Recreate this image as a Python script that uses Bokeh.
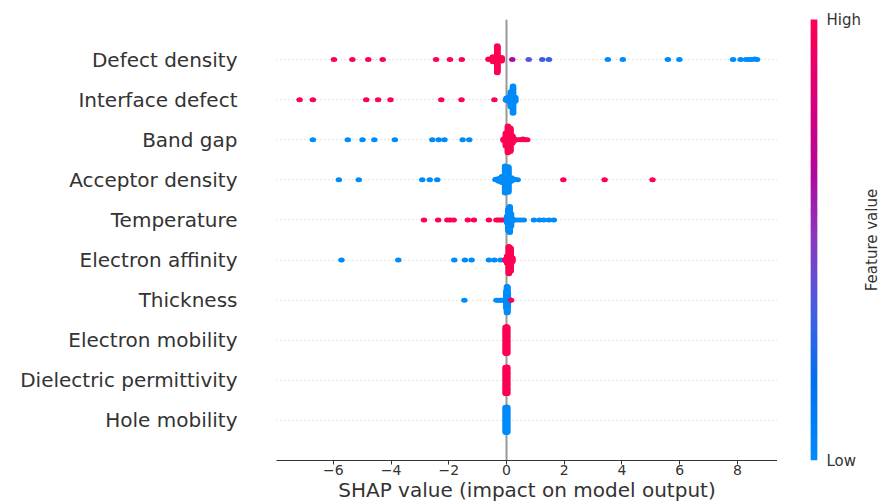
import numpy as np
from bokeh.plotting import figure
from bokeh.layouts import row
from bokeh.models import Range1d, FixedTicker, Span, ColumnDataSource, LinearAxis
from bokeh.core.properties import value
from bokeh.embed import file_html
from bokeh.resources import INLINE

# ---------------- data ----------------
feature_names = ["Defect density", "Interface defect", "Band gap", "Acceptor density",
                 "Temperature", "Electron affinity", "Thickness", "Electron mobility",
                 "Dielectric permittivity", "Hole mobility"]

# each entry: SHAP value, number of samples at that value, feature value (0 = low, 1 = high)
defect_density_shap = [-5.98, -5.34, -4.79, -4.29, -2.44, -1.96, -1.55, -0.62, -0.47, -0.32, -0.17,
                       0.2, 0.77, 1.24, 1.47, 3.51, 4.03, 5.59, 5.99, 7.85, 8.11, 8.3, 8.4, 8.5, 8.6, 8.68]
defect_density_count = [1, 1, 1, 1, 1, 1, 1, 2, 8, 40, 6,
                        1, 1, 1, 1, 1, 1, 1, 1, 1, 1, 1, 1, 1, 1, 1]
defect_density_feat = [1, 1, 1, 1, 1, 1, 1, 1, 1, 1, 1,
                       0.65, 0.4, 0.33, 0.3, 0, 0, 0, 0, 0, 0, 0, 0, 0, 0, 0]

interface_defect_shap = [-7.17, -6.71, -4.86, -4.45, -4.02, -2.26, -1.56, -0.42, -0.02, 0.0, 0.076, 0.15, 0.225, 0.30]
interface_defect_count = [1, 1, 1, 1, 1, 1, 1, 1, 1, 3, 6, 20, 35, 6]
interface_defect_feat = [1, 1, 1, 1, 1, 1, 1, 1, 1, 0, 0, 0, 0, 0]

band_gap_shap = [-6.71, -5.5, -4.99, -4.58, -3.87, -2.57, -2.35, -2.15, -1.52, -1.29,
                 -0.1, -0.02, 0.05, 0.13, 0.2, 0.28, 0.42, 0.5, 0.57, 0.65, 0.72]
band_gap_count = [1, 1, 1, 1, 1, 1, 1, 1, 1, 1, 3, 20, 40, 35, 12, 3, 1, 1, 2, 1, 1]
band_gap_feat = [0, 0, 0, 0, 0, 0, 0, 0, 0, 0, 1, 1, 1, 1, 1, 1, 1, 1, 1, 1, 1]

acceptor_density_shap = [-5.81, -5.12, -2.92, -2.66, -2.4, -0.375, -0.266, -0.157, -0.049, 0.06,
                         0.168, 0.277, 0.386, 1.97, 3.4, 5.06]
acceptor_density_count = [1, 1, 1, 1, 1, 2, 5, 10, 40, 38, 6, 2, 1, 1, 1, 1]
acceptor_density_feat = [0, 0, 0, 0, 0, 0, 0, 0, 0, 0, 0, 0, 0, 1, 1, 1]

temperature_shap = [-2.86, -2.37, -2.05, -1.95, -1.83, -1.34, -1.13, -0.61, -0.35, -0.28, -0.2, -0.13,
                    0.02, 0.065, 0.11, 0.155, 0.2, 0.3, 0.4, 0.5, 0.6, 0.95, 1.14, 1.29, 1.47, 1.64]
temperature_count = [1, 1, 1, 1, 1, 1, 1, 1, 1, 1, 1, 1,
                     8, 25, 30, 15, 3, 1, 1, 1, 1, 1, 1, 1, 1, 1]
temperature_feat = [1, 1, 1, 1, 1, 1, 1, 1, 1, 1, 1, 1,
                    0, 0, 0, 0, 0, 0, 0, 0, 0, 0, 0, 0, 0, 0]

electron_affinity_shap = [-5.72, -3.75, -1.81, -1.44, -1.21, -0.61, -0.42, -0.21, -0.036, 0.023, 0.082, 0.14, 0.2]
electron_affinity_count = [1, 1, 1, 1, 1, 1, 1, 1, 3, 10, 35, 30, 6]
electron_affinity_feat = [0, 0, 0, 0, 0, 0, 0, 0, 1, 1, 1, 1, 1]

thickness_shap = [-1.46, -0.35, -0.28, -0.21, -0.14, -0.09, -0.016, 0.0, 0.016, 0.032, 0.048, 0.064, 0.16]
thickness_count = [1, 1, 1, 1, 1, 1, 3, 20, 30, 30, 15, 5, 1]
thickness_feat = [0, 0, 0, 0, 0, 0, 0, 0, 0, 0, 0, 0, 1]

electron_mobility_shap = [-0.03, -0.015, 0.0, 0.015, 0.03, -0.03, -0.015, 0.0, 0.015, 0.03]
electron_mobility_count = [1, 1, 1, 1, 1, 20, 20, 20, 20, 20]
electron_mobility_feat = [0, 0, 0, 0, 0, 1, 1, 1, 1, 1]

dielectric_permittivity_shap = [-0.03, -0.015, 0.0, 0.015, 0.03, -0.03, -0.015, 0.0, 0.015, 0.03]
dielectric_permittivity_count = [1, 1, 1, 1, 1, 20, 20, 20, 20, 20]
dielectric_permittivity_feat = [0, 0, 0, 0, 0, 1, 1, 1, 1, 1]

hole_mobility_shap = [-0.03, -0.015, 0.0, 0.015, 0.03]
hole_mobility_count = [20, 20, 20, 20, 20]
hole_mobility_feat = [0, 0, 0, 0, 0]

x_ticks = [-6, -4, -2, 0, 2, 4, 6, 8]
x_tick_labels = ["\u22126", "\u22124", "\u22122", "0", "2", "4", "6", "8"]
x_title = "SHAP value (impact on model output)"
cbar_title = "Feature value"
cbar_ticks = [0, 1]
cbar_tick_labels = ["Low", "High"]

# ---------------- styling / layout ----------------
FONT = "DejaVu Sans"
TXT = "#333333"
X_MIN, X_MAX = -7.97, 9.39
W_MAIN, W_CBAR, W_TITLE, H = 777, 86, 20, 504
B_LEFT, B_TOP, B_BOTTOM = 276, 19, 44

anchor_pos = [0.0, 0.18, 0.35, 0.5, 0.65, 0.8, 1.0]
anchor_hex = ["#008bfa", "#0070f0", "#4a5ce0", "#8a38c0", "#b0089e", "#d40080", "#ff0052"]
anchor_rgb = np.array([[int(h[i:i + 2], 16) for i in (1, 3, 5)] for h in anchor_hex], float)
palette = []
for t in np.linspace(0, 1, 256):
    c = [int(round(np.interp(t, anchor_pos, anchor_rgb[:, k]))) for k in range(3)]
    palette.append("#%02x%02x%02x" % tuple(c))


def beeswarm(shaps, row_height=0.4, nbins=100):
    shaps = np.asarray(shaps, float)
    n = len(shaps)
    quant = np.round(nbins * (shaps - shaps.min()) / (shaps.max() - shaps.min() + 1e-8))
    inds = np.argsort(quant, kind="stable")
    layer, last = 0, None
    ys = np.zeros(n)
    for ind in inds:
        if quant[ind] != last:
            layer = 0
        ys[ind] = np.ceil(layer / 2) * ((layer % 2) * 2 - 1)
        layer += 1
        last = quant[ind]
    ys *= 0.9 * (row_height / np.max(ys + 1))
    return ys


rows = [
    (defect_density_shap, defect_density_count, defect_density_feat),
    (interface_defect_shap, interface_defect_count, interface_defect_feat),
    (band_gap_shap, band_gap_count, band_gap_feat),
    (acceptor_density_shap, acceptor_density_count, acceptor_density_feat),
    (temperature_shap, temperature_count, temperature_feat),
    (electron_affinity_shap, electron_affinity_count, electron_affinity_feat),
    (thickness_shap, thickness_count, thickness_feat),
    (electron_mobility_shap, electron_mobility_count, electron_mobility_feat),
    (dielectric_permittivity_shap, dielectric_permittivity_count, dielectric_permittivity_feat),
    (hole_mobility_shap, hole_mobility_count, hole_mobility_feat),
]

n_feat = len(feature_names)
xs_all, ys_all, col_all = [], [], []
for i, (sv, cnt, fv) in enumerate(rows):
    pos = n_feat - 1 - i
    xv = np.repeat(np.asarray(sv, float), cnt)
    fvv = np.repeat(np.asarray(fv, float), cnt)
    yv = pos + beeswarm(xv)
    xs_all.extend(xv.tolist())
    ys_all.extend(yv.tolist())
    col_all.extend([palette[int(round(f * 255))] for f in fvv])

src = ColumnDataSource(dict(x=xs_all, y=ys_all, color=col_all))

# ---------------- main beeswarm figure ----------------
p = figure(width=W_MAIN, height=H, output_backend="svg", toolbar_location=None,
           x_range=Range1d(X_MIN, X_MAX), y_range=Range1d(-1, n_feat),
           min_border_left=B_LEFT, min_border_right=0,
           min_border_top=B_TOP, min_border_bottom=B_BOTTOM)
p.outline_line_color = None
p.background_fill_color = "white"
p.border_fill_color = "white"

p.xgrid.visible = False
p.yaxis.ticker = FixedTicker(ticks=list(range(n_feat)))
p.yaxis.major_label_overrides = {n_feat - 1 - i: nm for i, nm in enumerate(feature_names)}
p.yaxis.axis_line_color = None
p.yaxis.major_tick_line_color = None
p.yaxis.minor_tick_line_color = None
p.yaxis.major_tick_out = 0
p.yaxis.major_tick_in = 0
p.yaxis.major_label_standoff = 39
p.yaxis.major_label_text_font = FONT
p.yaxis.major_label_text_font_size = "20px"
p.yaxis.major_label_text_color = TXT

p.ygrid.grid_line_color = "#cccccc"
p.ygrid.grid_line_dash = "1 3"
p.ygrid.grid_line_width = 1

p.xaxis.ticker = FixedTicker(ticks=x_ticks)
p.xaxis.major_label_overrides = dict(zip(x_ticks, x_tick_labels))
p.xaxis.axis_line_color = TXT
p.xaxis.axis_line_width = 1
p.xaxis.major_tick_line_color = TXT
p.xaxis.minor_tick_line_color = None
p.xaxis.major_tick_out = 4
p.xaxis.major_tick_in = 0
p.xaxis.major_label_standoff = 0
p.xaxis.major_label_text_font = FONT
p.xaxis.major_label_text_font_size = "14px"
p.xaxis.major_label_text_color = TXT
p.xaxis.axis_label = x_title
p.xaxis.axis_label_standoff = 0
p.xaxis.axis_label_text_font = FONT
p.xaxis.axis_label_text_font_size = "20px"
p.xaxis.axis_label_text_font_style = "normal"
p.xaxis.axis_label_text_color = TXT

p.add_layout(Span(location=0, dimension="height", line_color="#999999",
                  line_width=2, level="underlay"))

p.ellipse(x="x", y="y", width=6.5, height=5, width_units="screen", height_units="screen",
          fill_color="color", line_color=None, source=src)

# ---------------- colour bar figure: frame = the bar itself ----------------
cb = figure(width=W_CBAR, height=H, output_backend="svg", toolbar_location=None,
            x_range=Range1d(0, 1), y_range=Range1d(0, 1),
            x_axis_type=None, y_axis_type=None,
            min_border_left=33, min_border_right=W_CBAR - 40,
            min_border_top=B_TOP, min_border_bottom=B_BOTTOM)
cb.outline_line_color = None
cb.grid.visible = False
cb.background_fill_color = "white"
cb.border_fill_color = "white"

steps = np.linspace(0, 1, len(palette) + 1)
cb.quad(left=0, right=1, bottom=steps[:-1].tolist(),
        top=(steps[1:] + 0.002).tolist(), fill_color=palette, line_color=None)

cax = LinearAxis(ticker=FixedTicker(ticks=cbar_ticks),
                 major_label_overrides=dict(zip(cbar_ticks, cbar_tick_labels)),
                 axis_line_color=None, major_tick_line_color=None, minor_tick_line_color=None,
                 major_tick_out=0, major_tick_in=0, major_label_standoff=9,
                 major_label_text_font=FONT, major_label_text_font_size="15px",
                 major_label_text_color=TXT)
cb.add_layout(cax, "right")

# ---------------- colour bar title (rotated, reads bottom to top) ----------------
tt = figure(width=W_TITLE, height=H, output_backend="svg", toolbar_location=None,
            x_range=Range1d(0, W_TITLE), y_range=Range1d(0, 1),
            x_axis_type=None, y_axis_type=None,
            min_border_left=0, min_border_right=0,
            min_border_top=B_TOP, min_border_bottom=B_BOTTOM)
tt.outline_line_color = None
tt.grid.visible = False
tt.background_fill_color = "white"
tt.border_fill_color = "white"
tt.text(x=[8.5], y=[0.5], text=[cbar_title], angle=np.pi / 2,
        text_align="center", text_baseline="middle",
        text_font=value(FONT), text_font_size="15px", text_color=TXT)

layout = row(p, cb, tt)
open("out.html", "w").write(file_html(layout, INLINE))
